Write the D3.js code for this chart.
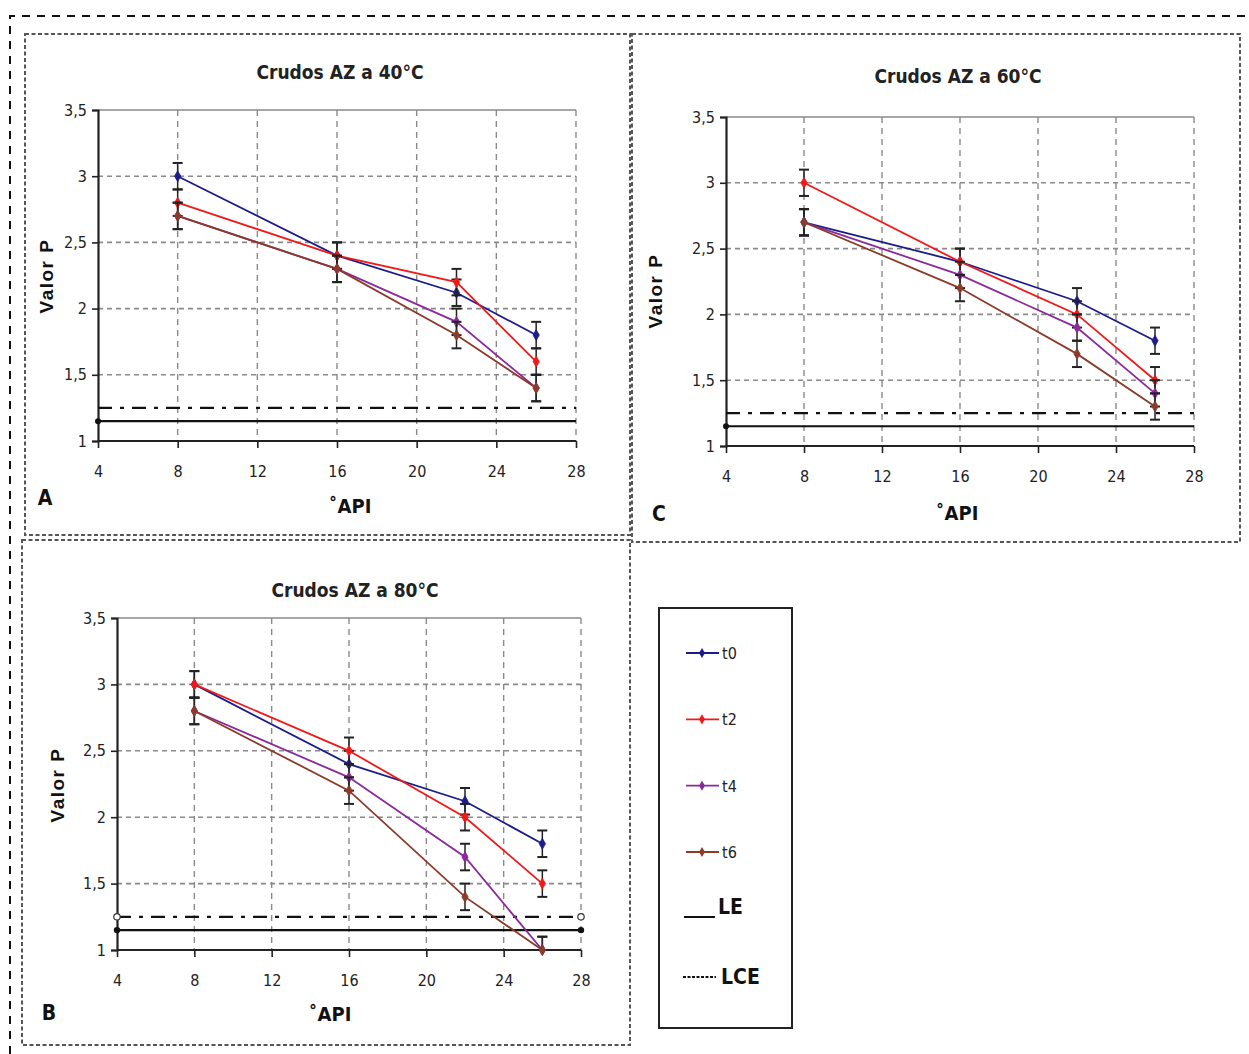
<!DOCTYPE html>
<html>
<head>
<meta charset="utf-8">
<script src="https://cdn.jsdelivr.net/npm/d3@7"></script>
<style>
  html, body { margin: 0; padding: 0; background: #fff; }
  svg { display: block; }
</style>
</head>
<body>
<svg id="fig" width="1249" height="1054"></svg>
<script>
// °API values at which each crude was measured
const apiValues = [8, 16, 22, 26];

// Valor P per series at 40 °C
const t0_40 = [3.0, 2.4, 2.12, 1.8];
const t2_40 = [2.8, 2.4, 2.2, 1.6];
const t4_40 = [2.7, 2.3, 1.9, 1.4];
const t6_40 = [2.7, 2.3, 1.8, 1.4];

// Valor P per series at 60 °C
const t0_60 = [2.7, 2.4, 2.1, 1.8];
const t2_60 = [3.0, 2.4, 2.0, 1.5];
const t4_60 = [2.7, 2.3, 1.9, 1.4];
const t6_60 = [2.7, 2.2, 1.7, 1.3];

// Valor P per series at 80 °C
const t0_80 = [3.0, 2.4, 2.12, 1.8];
const t2_80 = [3.0, 2.5, 2.0, 1.5];
const t4_80 = [2.8, 2.3, 1.7, 1.0];
const t6_80 = [2.8, 2.2, 1.4, 1.0];

const seriesNames = ["t0", "t2", "t4", "t6"];
const seriesColors = ["#1c1c8a", "#f01818", "#8a2a9a", "#8c3a2a"];
const errorHalf = 0.1;

// Stability limits
const leValue = 1.15;
const lceValue = 1.25;

const xTicks = [4, 8, 12, 16, 20, 24, 28];
const yTicks = [1, 1.5, 2, 2.5, 3, 3.5];
const yTickLabels = ["1", "1,5", "2", "2,5", "3", "3,5"];
const titles = ["Crudos AZ a 40°C", "Crudos AZ a 60°C", "Crudos AZ a 80°C"];
const panelLetters = ["A", "C", "B"];

const svg = d3.select("#fig");
const NARROW = '"Liberation Sans Narrow", "DejaVu Sans Condensed", "Liberation Sans", sans-serif';
const WIDE = '"Liberation Sans", Arial, sans-serif';

// Outer frame (long dashes)
svg.append("path")
  .attr("d", "M10,1054 L10,16 L1249,16")
  .attr("fill", "none").attr("stroke", "#111").attr("stroke-width", 2)
  .attr("stroke-dasharray", "8,7");

// Panel frames (short square dots)
const frames = [
  {x: 25, y: 34, w: 605, h: 501},
  {x: 632, y: 34, w: 608, h: 508},
  {x: 22, y: 540, w: 608, h: 505}
];
frames.forEach(f => {
  svg.append("rect").attr("x", f.x).attr("y", f.y).attr("width", f.w).attr("height", f.h)
    .attr("fill", "none").attr("stroke", "#555").attr("stroke-width", 2)
    .attr("stroke-dasharray", "4,2.5");
});

function drawPanel(p) {
  const x = d3.scaleLinear().domain([4, 28]).range([p.x0, p.x1]);
  const y = d3.scaleLinear().domain([1, 3.5]).range([p.y0, p.y1]);
  const g = svg.append("g");

  // Grid: horizontal and vertical dashed lines
  g.append("g").selectAll("line").data(yTicks.filter(v => v > 1)).join("line")
    .attr("x1", x(4)).attr("x2", x(28))
    .attr("y1", d => y(d)).attr("y2", d => y(d))
    .attr("stroke", "#8a8a8a").attr("stroke-width", 1.6)
    .attr("stroke-dasharray", d => d === 3.5 ? null : "5,4");
  g.append("g").selectAll("line").data(xTicks.filter(v => v > 4)).join("line")
    .attr("x1", d => x(d)).attr("x2", d => x(d))
    .attr("y1", y(3.5)).attr("y2", y(1))
    .attr("stroke", "#8a8a8a").attr("stroke-width", 1.4)
    .attr("stroke-dasharray", "6,5");

  // Axes
  const xAxis = d3.axisBottom(x).tickValues(xTicks).tickSize(7).tickPadding(18).tickFormat(d3.format("d"));
  const yAxis = d3.axisLeft(y).tickValues(yTicks).tickSize(6).tickPadding(5)
    .tickFormat((d, i) => yTickLabels[i]);
  const gx = g.append("g").attr("transform", `translate(0,${y(1)})`).call(xAxis);
  const gy = g.append("g").attr("transform", `translate(${x(4)},0)`).call(yAxis);
  [gx, gy].forEach(a => {
    a.select(".domain").attr("stroke", "#222").attr("stroke-width", 2.2);
    a.selectAll(".tick line").attr("stroke", "#222").attr("stroke-width", 1.6);
    a.selectAll("text").attr("font-family", NARROW).attr("font-size", 16).attr("fill", "#222");
  });
  gx.select(".domain").attr("d", `M${x(4)},0H${x(28)}`);

  // Limit lines
  g.append("line").attr("x1", x(4)).attr("x2", x(28))
    .attr("y1", y(leValue)).attr("y2", y(leValue))
    .attr("stroke", "#111").attr("stroke-width", 2.2);
  g.append("line").attr("x1", x(4)).attr("x2", x(28))
    .attr("y1", y(lceValue)).attr("y2", y(lceValue))
    .attr("stroke", "#111").attr("stroke-width", 2.2)
    .attr("stroke-dasharray", "14,8,4,8");
  if (p.limitMarkers) {
    g.selectAll(".le-mk").data([4, 28]).join("circle").attr("class", "le-mk")
      .attr("cx", d => x(d)).attr("cy", y(leValue)).attr("r", 3.2).attr("fill", "#111");
    g.selectAll(".lce-mk").data([4, 28]).join("circle").attr("class", "lce-mk")
      .attr("cx", d => x(d)).attr("cy", y(lceValue)).attr("r", 3.2)
      .attr("fill", "#fff").attr("stroke", "#333").attr("stroke-width", 1.2);
  } else {
    g.append("circle").attr("cx", x(4)).attr("cy", y(leValue)).attr("r", 3).attr("fill", "#111");
  }

  // Series: line, error bars, diamond markers
  const line = d3.line().x((d, i) => x(apiValues[i])).y(d => y(d));
  const diamond = d3.symbol().type(d3.symbolDiamond).size(34);
  p.series.forEach((vals, si) => {
    const col = seriesColors[si];
    const sg = g.append("g");
    sg.append("path").datum(vals).attr("d", line)
      .attr("fill", "none").attr("stroke", col).attr("stroke-width", 1.8);
    const pts = vals.map((v, i) => ({api: apiValues[i], v}));
    const eb = sg.selectAll(".eb").data(pts).join("g").attr("class", "eb");
    eb.append("line")
      .attr("x1", d => x(d.api)).attr("x2", d => x(d.api))
      .attr("y1", d => y(d.v + errorHalf)).attr("y2", d => y(Math.max(1, d.v - errorHalf)))
      .attr("stroke", "#222").attr("stroke-width", 1.5);
    eb.append("line")
      .attr("x1", d => x(d.api) - 5).attr("x2", d => x(d.api) + 5)
      .attr("y1", d => y(d.v + errorHalf)).attr("y2", d => y(d.v + errorHalf))
      .attr("stroke", "#222").attr("stroke-width", 2);
    eb.filter(d => d.v - errorHalf >= 1).append("line")
      .attr("x1", d => x(d.api) - 5).attr("x2", d => x(d.api) + 5)
      .attr("y1", d => y(d.v - errorHalf)).attr("y2", d => y(d.v - errorHalf))
      .attr("stroke", "#222").attr("stroke-width", 2);
    sg.selectAll(".mk").data(pts).join("path").attr("class", "mk")
      .attr("d", diamond)
      .attr("transform", d => `translate(${x(d.api)},${y(d.v)})`)
      .attr("fill", col).attr("stroke", col).attr("stroke-width", 0.8);
  });

  // Texts
  g.append("text").attr("x", p.titleX).attr("y", p.titleY)
    .attr("text-anchor", "middle").attr("font-family", NARROW)
    .attr("font-weight", "bold").attr("font-size", 19).attr("fill", "#222")
    .text(p.title);
  g.append("text").attr("transform", `translate(${p.ylabX},${p.ylabY}) rotate(-90)`)
    .attr("text-anchor", "middle").attr("font-family", WIDE)
    .attr("font-weight", "bold").attr("font-size", 19).attr("letter-spacing", 1.5)
    .attr("fill", "#111")
    .text("Valor P");
  g.append("text").attr("x", p.xlabX).attr("y", p.xlabY)
    .attr("text-anchor", "middle").attr("font-family", NARROW)
    .attr("font-weight", "bold").attr("font-size", 20).attr("fill", "#111")
    .text("˚API");
  g.append("text").attr("x", p.letterX).attr("y", p.letterY)
    .attr("text-anchor", "middle").attr("font-family", NARROW)
    .attr("font-weight", "bold").attr("font-size", 21).attr("fill", "#111")
    .text(p.letter);
}

drawPanel({
  x0: 98, x1: 576, y0: 441, y1: 110,
  series: [t0_40, t2_40, t4_40, t6_40], limitMarkers: false,
  title: titles[0], titleX: 340, titleY: 79,
  ylabX: 53, ylabY: 276, xlabX: 350, xlabY: 513,
  letter: panelLetters[0], letterX: 45, letterY: 505
});
drawPanel({
  x0: 726, x1: 1194, y0: 446, y1: 117,
  series: [t0_60, t2_60, t4_60, t6_60], limitMarkers: false,
  title: titles[1], titleX: 958, titleY: 83,
  ylabX: 662, ylabY: 291, xlabX: 957, xlabY: 520,
  letter: panelLetters[1], letterX: 659, letterY: 521
});
drawPanel({
  x0: 117, x1: 581, y0: 950, y1: 618,
  series: [t0_80, t2_80, t4_80, t6_80], limitMarkers: true,
  title: titles[2], titleX: 355, titleY: 597,
  ylabX: 64, ylabY: 785, xlabX: 330, xlabY: 1021,
  letter: panelLetters[2], letterX: 49, letterY: 1020
});

// Legend
const lg = svg.append("g");
lg.append("rect").attr("x", 659).attr("y", 608).attr("width", 133).attr("height", 420)
  .attr("fill", "#fff").attr("stroke", "#222").attr("stroke-width", 2);
const legendY = d3.scalePoint().domain(seriesNames).range([653, 852]);
const diamondL = d3.symbol().type(d3.symbolDiamond).size(30);
seriesNames.forEach((name, i) => {
  const yy = legendY(name);
  lg.append("line").attr("x1", 686).attr("x2", 719).attr("y1", yy).attr("y2", yy)
    .attr("stroke", seriesColors[i]).attr("stroke-width", 1.8);
  lg.append("path").attr("d", diamondL).attr("transform", `translate(702,${yy})`)
    .attr("fill", seriesColors[i]);
  lg.append("text").attr("x", 722).attr("y", yy + 6).attr("font-family", NARROW)
    .attr("font-size", 16).attr("fill", "#222").text(name);
});
lg.append("line").attr("x1", 684).attr("x2", 715).attr("y1", 917).attr("y2", 917)
  .attr("stroke", "#111").attr("stroke-width", 2);
lg.append("text").attr("x", 718).attr("y", 914).attr("font-family", NARROW)
  .attr("font-weight", "bold").attr("font-size", 21).attr("fill", "#111").text("LE");
lg.append("line").attr("x1", 683).attr("x2", 716).attr("y1", 977).attr("y2", 977)
  .attr("stroke", "#111").attr("stroke-width", 2).attr("stroke-dasharray", "3,1.5");
lg.append("text").attr("x", 721).attr("y", 984).attr("font-family", NARROW)
  .attr("font-weight", "bold").attr("font-size", 21).attr("fill", "#111").text("LCE");
</script>
</body>
</html>
